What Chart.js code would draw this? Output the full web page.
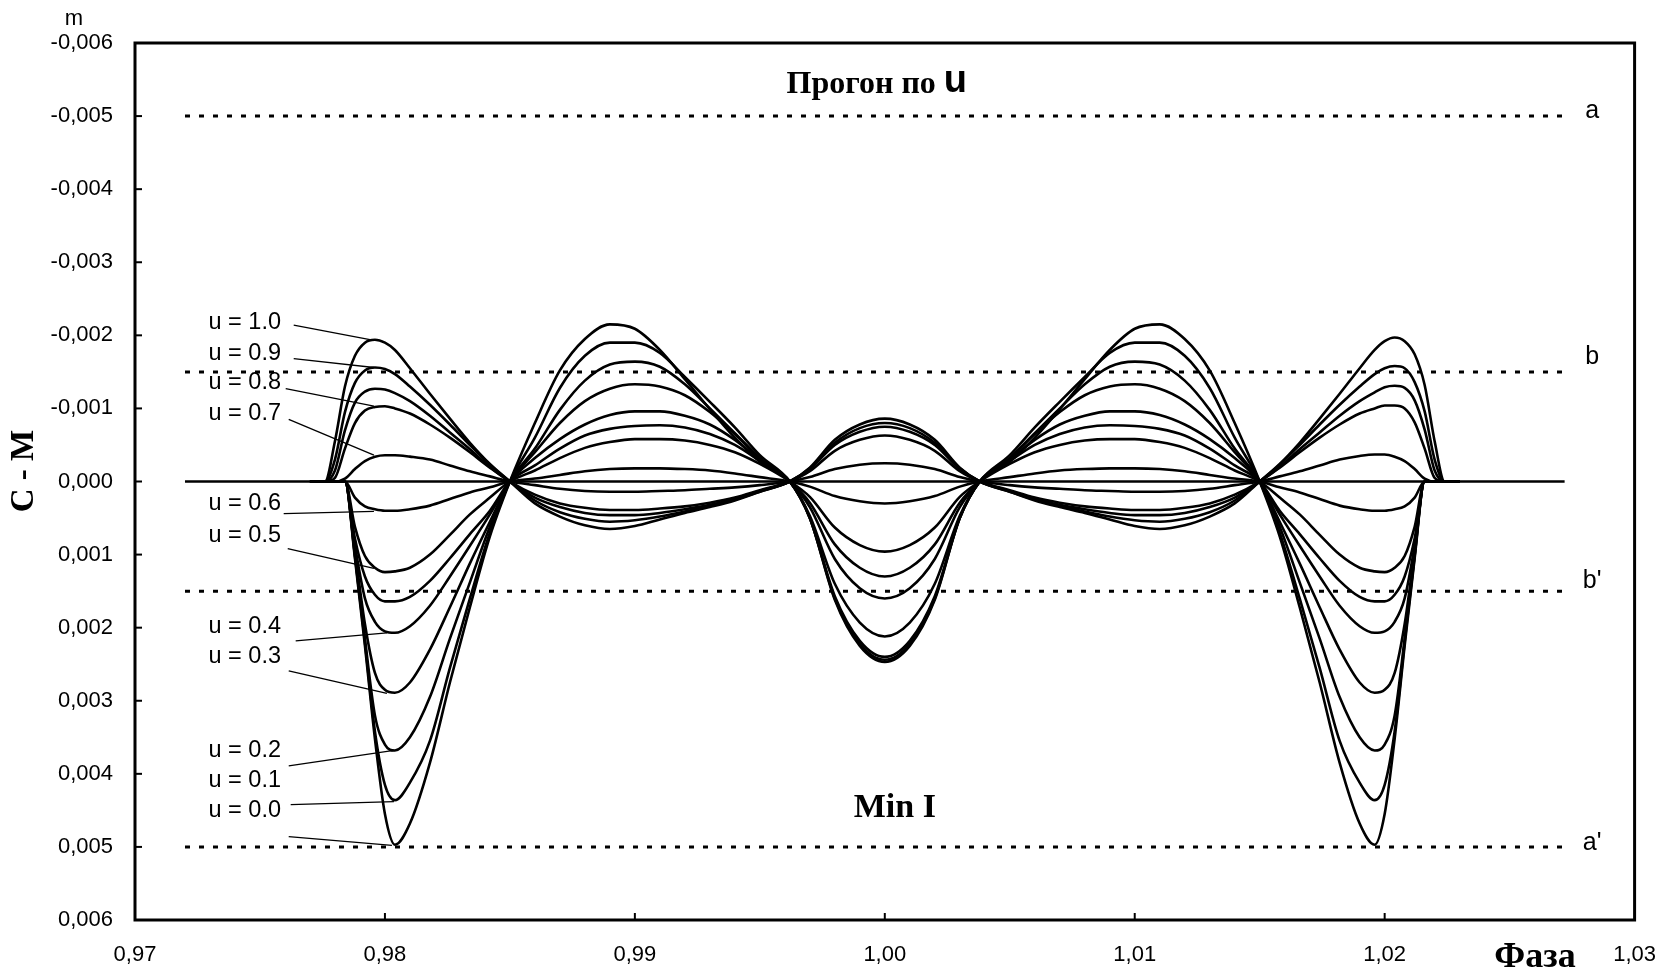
<!DOCTYPE html>
<html><head><meta charset="utf-8">
<script src="https://cdn.jsdelivr.net/npm/chart.js@4.4.1/dist/chart.umd.min.js"></script>
<style>html,body{margin:0;padding:0;background:#fff;}canvas{display:block;}</style>
</head><body>
<canvas id="c" width="1678" height="973"></canvas>
<script>
// Phase grid (x values)
const phase = [0.9770,0.9776,0.9780,0.9784,0.9788,0.9792,0.9796,0.9800,0.9804,0.9810,0.9818,0.9826,0.9834,0.9842,0.9850,0.9860,0.9870,0.9880,0.9890,0.9900,0.9910,0.9920,0.9930,0.9940,0.9950,0.9962,0.9970,0.9980,0.9990,1.0000,
1.0010,1.0020,1.0030,1.0038,1.0050,1.0060,1.0070,1.0080,1.0090,1.0100,1.0110,1.0120,1.0130,1.0140,1.0150,1.0158,1.0166,1.0174,1.0182,1.0190,1.0196,1.0200,1.0204,1.0208,1.0212,1.0216,1.0220,1.0224,1.0230];

// C - M values in units of 0.001 m
const curve1 = [0,0,-0.55,-1.30,-1.72,-1.90,-1.94,-1.90,-1.80,-1.55,-1.20,-0.86,-0.53,-0.24,0,0.30,0.48,0.60,0.65,0.61,0.52,0.43,0.35,0.26,0.14,0,-0.19,-0.57,-0.78,-0.86,
-0.78,-0.57,-0.19,0,0.14,0.26,0.35,0.43,0.52,0.61,0.65,0.60,0.48,0.30,0,-0.24,-0.53,-0.86,-1.20,-1.55,-1.80,-1.92,-1.97,-1.92,-1.74,-1.32,-0.55,0,0];
const curve2 = [0,0,-0.30,-0.95,-1.35,-1.52,-1.56,-1.54,-1.47,-1.30,-1.05,-0.78,-0.50,-0.23,0,0.26,0.42,0.51,0.55,0.53,0.48,0.41,0.34,0.25,0.14,0,-0.18,-0.53,-0.73,-0.80,
-0.73,-0.53,-0.18,0,0.14,0.25,0.34,0.41,0.48,0.53,0.55,0.51,0.42,0.26,0,-0.23,-0.50,-0.78,-1.05,-1.30,-1.47,-1.55,-1.58,-1.55,-1.36,-0.96,-0.30,0,0];
const curve3 = [0,0,-0.15,-0.70,-1.08,-1.23,-1.27,-1.26,-1.21,-1.10,-0.90,-0.67,-0.44,-0.20,0,0.22,0.35,0.43,0.46,0.46,0.43,0.38,0.32,0.24,0.13,0,-0.17,-0.50,-0.68,-0.75,
-0.68,-0.50,-0.17,0,0.13,0.24,0.32,0.38,0.43,0.46,0.46,0.43,0.35,0.22,0,-0.20,-0.44,-0.67,-0.90,-1.10,-1.22,-1.29,-1.31,-1.28,-1.11,-0.71,-0.15,0,0];
const curve4 = [0,0,-0.05,-0.45,-0.80,-0.97,-1.02,-1.03,-1.00,-0.93,-0.78,-0.60,-0.40,-0.19,0,0.18,0.30,0.36,0.39,0.39,0.37,0.34,0.29,0.22,0.12,0,-0.14,-0.42,-0.57,-0.63,
-0.57,-0.42,-0.14,0,0.12,0.22,0.29,0.34,0.37,0.39,0.39,0.36,0.30,0.18,0,-0.19,-0.40,-0.60,-0.78,-0.93,-1.00,-1.04,-1.04,-1.00,-0.81,-0.45,-0.05,0,0];
const curve5 = [0,0,0,-0.04,-0.17,-0.28,-0.34,-0.36,-0.36,-0.34,-0.30,-0.22,-0.14,-0.07,0,0.05,0.10,0.13,0.14,0.14,0.13,0.12,0.10,0.08,0.05,0,-0.06,-0.17,-0.23,-0.25,
-0.23,-0.17,-0.06,0,0.05,0.08,0.10,0.12,0.13,0.14,0.14,0.13,0.10,0.05,0,-0.07,-0.14,-0.22,-0.30,-0.35,-0.37,-0.37,-0.34,-0.28,-0.17,-0.04,0,0,0];
const curve6 = [0,0,0,0,0.22,0.34,0.38,0.40,0.40,0.38,0.33,0.24,0.15,0.08,0,-0.04,-0.09,-0.14,-0.17,-0.18,-0.18,-0.17,-0.15,-0.11,-0.06,0,0.07,0.20,0.27,0.30,
0.27,0.20,0.07,0,-0.06,-0.11,-0.15,-0.17,-0.18,-0.18,-0.17,-0.14,-0.09,-0.04,0,0.08,0.15,0.24,0.33,0.38,0.40,0.40,0.38,0.34,0.22,0,0,0,0];
const curve7 = [0,0,0,0,0.62,1.02,1.18,1.24,1.23,1.18,1.00,0.73,0.45,0.22,0,-0.15,-0.32,-0.46,-0.54,-0.58,-0.58,-0.56,-0.50,-0.40,-0.24,0,0.21,0.63,0.87,0.96,
0.87,0.63,0.21,0,-0.24,-0.40,-0.50,-0.56,-0.58,-0.58,-0.54,-0.46,-0.32,-0.15,0,0.22,0.45,0.73,1.00,1.18,1.23,1.24,1.18,1.02,0.62,0,0,0,0];
const curve8 = [0,0,0,0,0.78,1.30,1.55,1.64,1.64,1.58,1.36,1.05,0.72,0.40,0,-0.22,-0.45,-0.63,-0.72,-0.76,-0.77,-0.74,-0.65,-0.50,-0.28,0,0.29,0.86,1.18,1.30,
1.18,0.86,0.29,0,-0.28,-0.50,-0.65,-0.74,-0.77,-0.76,-0.72,-0.63,-0.45,-0.22,0,0.40,0.72,1.05,1.36,1.58,1.64,1.64,1.55,1.30,0.78,0,0,0,0];
const curve9 = [0,0,0,0,0.88,1.60,1.92,2.05,2.07,1.98,1.70,1.30,0.88,0.45,0,-0.32,-0.58,-0.78,-0.91,-0.96,-0.96,-0.90,-0.78,-0.57,-0.30,0,0.35,1.06,1.46,1.60,
1.46,1.06,0.35,0,-0.30,-0.57,-0.78,-0.90,-0.96,-0.96,-0.91,-0.78,-0.58,-0.32,0,0.45,0.88,1.30,1.70,1.98,2.07,2.05,1.92,1.60,0.88,0,0,0,0];
const curve10 = [0,0,0,0,0.95,1.95,2.62,2.85,2.89,2.75,2.30,1.72,1.12,0.55,0,-0.40,-0.80,-1.10,-1.27,-1.33,-1.30,-1.18,-0.95,-0.65,-0.32,0,0.47,1.40,1.93,2.12,
1.93,1.40,0.47,0,-0.32,-0.65,-0.95,-1.18,-1.30,-1.33,-1.27,-1.10,-0.80,-0.40,0,0.55,1.12,1.72,2.30,2.75,2.89,2.85,2.62,1.95,0.95,0,0,0,0];
const curve11 = [0,0,0,0,1.00,2.15,3.20,3.60,3.68,3.50,2.95,2.15,1.38,0.62,0,-0.45,-0.98,-1.38,-1.60,-1.64,-1.57,-1.33,-1.00,-0.66,-0.32,0,0.50,1.57,2.18,2.40,
2.18,1.57,0.50,0,-0.32,-0.66,-1.00,-1.33,-1.57,-1.64,-1.60,-1.38,-0.98,-0.45,0,0.62,1.38,2.15,2.95,3.50,3.68,3.60,3.20,2.15,1.00,0,0,0,0];
const curve12 = [0,0,0,0,1.02,2.20,3.42,4.15,4.36,4.12,3.55,2.55,1.60,0.70,0,-0.60,-1.28,-1.72,-1.90,-1.90,-1.76,-1.43,-1.09,-0.74,-0.36,0,0.50,1.60,2.22,2.44,
2.22,1.60,0.50,0,-0.36,-0.74,-1.09,-1.43,-1.76,-1.90,-1.90,-1.72,-1.28,-0.60,0,0.70,1.60,2.55,3.55,4.12,4.36,4.15,3.42,2.20,1.02,0,0,0,0];
const curve13 = [0,0,0,0,1.05,2.25,3.52,4.55,4.97,4.68,3.85,2.75,1.72,0.75,0,-0.80,-1.52,-1.95,-2.15,-2.09,-1.80,-1.40,-0.99,-0.60,-0.27,0,0.50,1.62,2.25,2.47,
2.25,1.62,0.50,0,-0.27,-0.60,-0.99,-1.40,-1.80,-2.09,-2.15,-1.95,-1.52,-0.80,0,0.75,1.72,2.75,3.85,4.68,4.97,4.55,3.52,2.25,1.05,0,0,0,0];

// reference levels (units 0.001)
const levelValues = [-5, -1.5, 1.5, 5];
const levelNames = ['a', 'b', "b'", "a'"];
const levelSpan = [0.9720, 1.0272];
const zeroSpan = [0.9720, 1.0272];

// curve labels
const uLabels = ['u = 1.0','u = 0.9','u = 0.8','u = 0.7','u = 0.6','u = 0.5','u = 0.4','u = 0.3','u = 0.2','u = 0.1','u = 0.0'];
const xTickValues = [0.97, 0.98, 0.99, 1.00, 1.01, 1.02, 1.03];

// annotation placement (data coordinates)
const labelPos = {x: 0.97294, y: [-2.18,-1.75,-1.35,-0.93,0.30,0.74,1.98,2.39,3.68,4.09,4.50]};
const leaderFrom = [[0.97635,-2.14],[0.97635,-1.68],[0.97603,-1.27],[0.97615,-0.85],[0.97595,0.44],[0.97611,0.92],[0.97643,2.18],[0.97615,2.59],[0.97615,3.89],[0.97623,4.42],[0.97615,4.86]];
const leaderTo = [[0.97940,-1.94],[0.97956,-1.56],[0.97956,-1.03],[0.97956,-0.36],[0.97956,0.41],[0.97956,1.19],[0.98008,2.07],[0.98008,2.90],[0.98036,3.68],[0.98036,4.38],[0.98028,4.98]];
const levelLabelPos = {x: 1.0283, y: [-5.07, -1.70, 1.36, 4.95]};

const curves = [curve1,curve2,curve3,curve4,curve5,curve6,curve7,curve8,curve9,curve10,curve11,curve12,curve13];

const datasets = [];
levelValues.forEach(v => datasets.push({
  data: [{x: levelSpan[0], y: v}, {x: levelSpan[1], y: v}],
  borderColor: '#000', borderWidth: 3, borderDash: [5, 9], pointRadius: 0, fill: false
}));
datasets.push({data: [{x: zeroSpan[0], y: 0}, {x: zeroSpan[1], y: 0}], borderColor: '#000', borderWidth: 2.6, pointRadius: 0, fill: false});
curves.forEach(c => datasets.push({
  data: phase.map((x, i) => ({x: x, y: c[i]})),
  borderColor: '#000', borderWidth: 2.6, pointRadius: 0, fill: false,
  cubicInterpolationMode: 'monotone'
}));

const SANS = "'Liberation Sans', Arial, sans-serif";
const SERIF = "'Liberation Serif', 'Times New Roman', serif";

const decor = {
  id: 'decor',
  afterDraw(chart) {
    const ctx = chart.ctx, a = chart.chartArea, xs = chart.scales.x, ys = chart.scales.y;
    ctx.save();
    ctx.strokeStyle = '#000'; ctx.fillStyle = '#000';
    // frame
    ctx.lineWidth = 3;
    ctx.strokeRect(a.left, a.top, a.right - a.left, a.bottom - a.top);
    // inward ticks
    ctx.lineWidth = 2;
    for (let v = -5; v <= 5; v++) {
      const py = ys.getPixelForValue(v);
      ctx.beginPath(); ctx.moveTo(a.left, py); ctx.lineTo(a.left + 7, py); ctx.stroke();
    }
    xTickValues.slice(1, -1).forEach(v => {
      const px = xs.getPixelForValue(v);
      ctx.beginPath(); ctx.moveTo(px, a.bottom); ctx.lineTo(px, a.bottom - 7); ctx.stroke();
    });
    // leader lines
    ctx.lineWidth = 1.3;
    leaderFrom.forEach((f, i) => {
      const t = leaderTo[i];
      ctx.beginPath();
      ctx.moveTo(xs.getPixelForValue(f[0]), ys.getPixelForValue(f[1]));
      ctx.lineTo(xs.getPixelForValue(t[0]), ys.getPixelForValue(t[1]));
      ctx.stroke();
    });
    // u labels
    ctx.font = '23.5px ' + SANS;
    ctx.textAlign = 'left'; ctx.textBaseline = 'middle';
    uLabels.forEach((s, i) => ctx.fillText(s, xs.getPixelForValue(labelPos.x), ys.getPixelForValue(labelPos.y[i])));
    // level labels
    ctx.font = '25px ' + SANS;
    ctx.textAlign = 'center';
    levelNames.forEach((s, i) => ctx.fillText(s, xs.getPixelForValue(levelLabelPos.x), ys.getPixelForValue(levelLabelPos.y[i])));
    // title "Прогон по u"
    const tx = xs.getPixelForValue(0.99968), ty = ys.getPixelForValue(-5.43);
    ctx.font = 'bold 32px ' + SERIF;
    const w1 = ctx.measureText('Прогон по ').width;
    ctx.font = 'bold 38px ' + SANS;
    const w2 = ctx.measureText('u').width;
    const x0 = tx - (w1 + w2) / 2;
    ctx.textAlign = 'left';
    ctx.font = 'bold 32px ' + SERIF;
    ctx.fillText('Прогон по ', x0, ty);
    ctx.font = 'bold 38px ' + SANS;
    ctx.fillText('u', x0 + w1, ty - 3);
    ctx.textAlign = 'center';
    ctx.font = 'bold 34px ' + SERIF;
    ctx.fillText('Min I', xs.getPixelForValue(1.0004), ys.getPixelForValue(4.47));
    ctx.font = 'bold 36px ' + SERIF;
    ctx.fillText('Фаза', 1535, 958);
    ctx.font = '22px ' + SANS;
    ctx.fillText('m', 74, 19);
    ctx.save();
    ctx.translate(24, 471); ctx.rotate(-Math.PI / 2);
    ctx.font = 'bold 33px ' + SERIF;
    ctx.fillText('C - M', 0, 0);
    ctx.restore();
    ctx.restore();
  }
};

new Chart(document.getElementById('c'), {
  type: 'line',
  data: {datasets},
  options: {
    responsive: false, animation: false, devicePixelRatio: 1,
    layout: {padding: {top: 43, right: 33, left: 0, bottom: 0}},
    plugins: {legend: {display: false}, tooltip: {enabled: false}},
    scales: {
      x: {
        type: 'linear', min: 0.97, max: 1.03,
        afterBuildTicks: s => { s.ticks = xTickValues.map(v => ({value: v})); },
        afterFit: s => { s.height = 53; },
        ticks: {callback: v => v.toFixed(2).replace('.', ','), font: {family: SANS, size: 22}, color: '#000', padding: 22, maxRotation: 0, autoSkip: false},
        grid: {display: false, drawTicks: false}, border: {display: false}
      },
      y: {
        type: 'linear', reverse: true, min: -6, max: 6,
        ticks: {stepSize: 1, callback: v => { let s = (v / 1000).toFixed(3).replace('.', ','); if (s === '-0,000') s = '0,000'; return s; },
          font: {family: SANS, size: 22}, color: '#000', padding: 22},
        afterFit: s => { s.width = 135; },
        grid: {display: false, drawTicks: false}, border: {display: false}
      }
    }
  },
  plugins: [decor]
});
</script>
</body></html>
